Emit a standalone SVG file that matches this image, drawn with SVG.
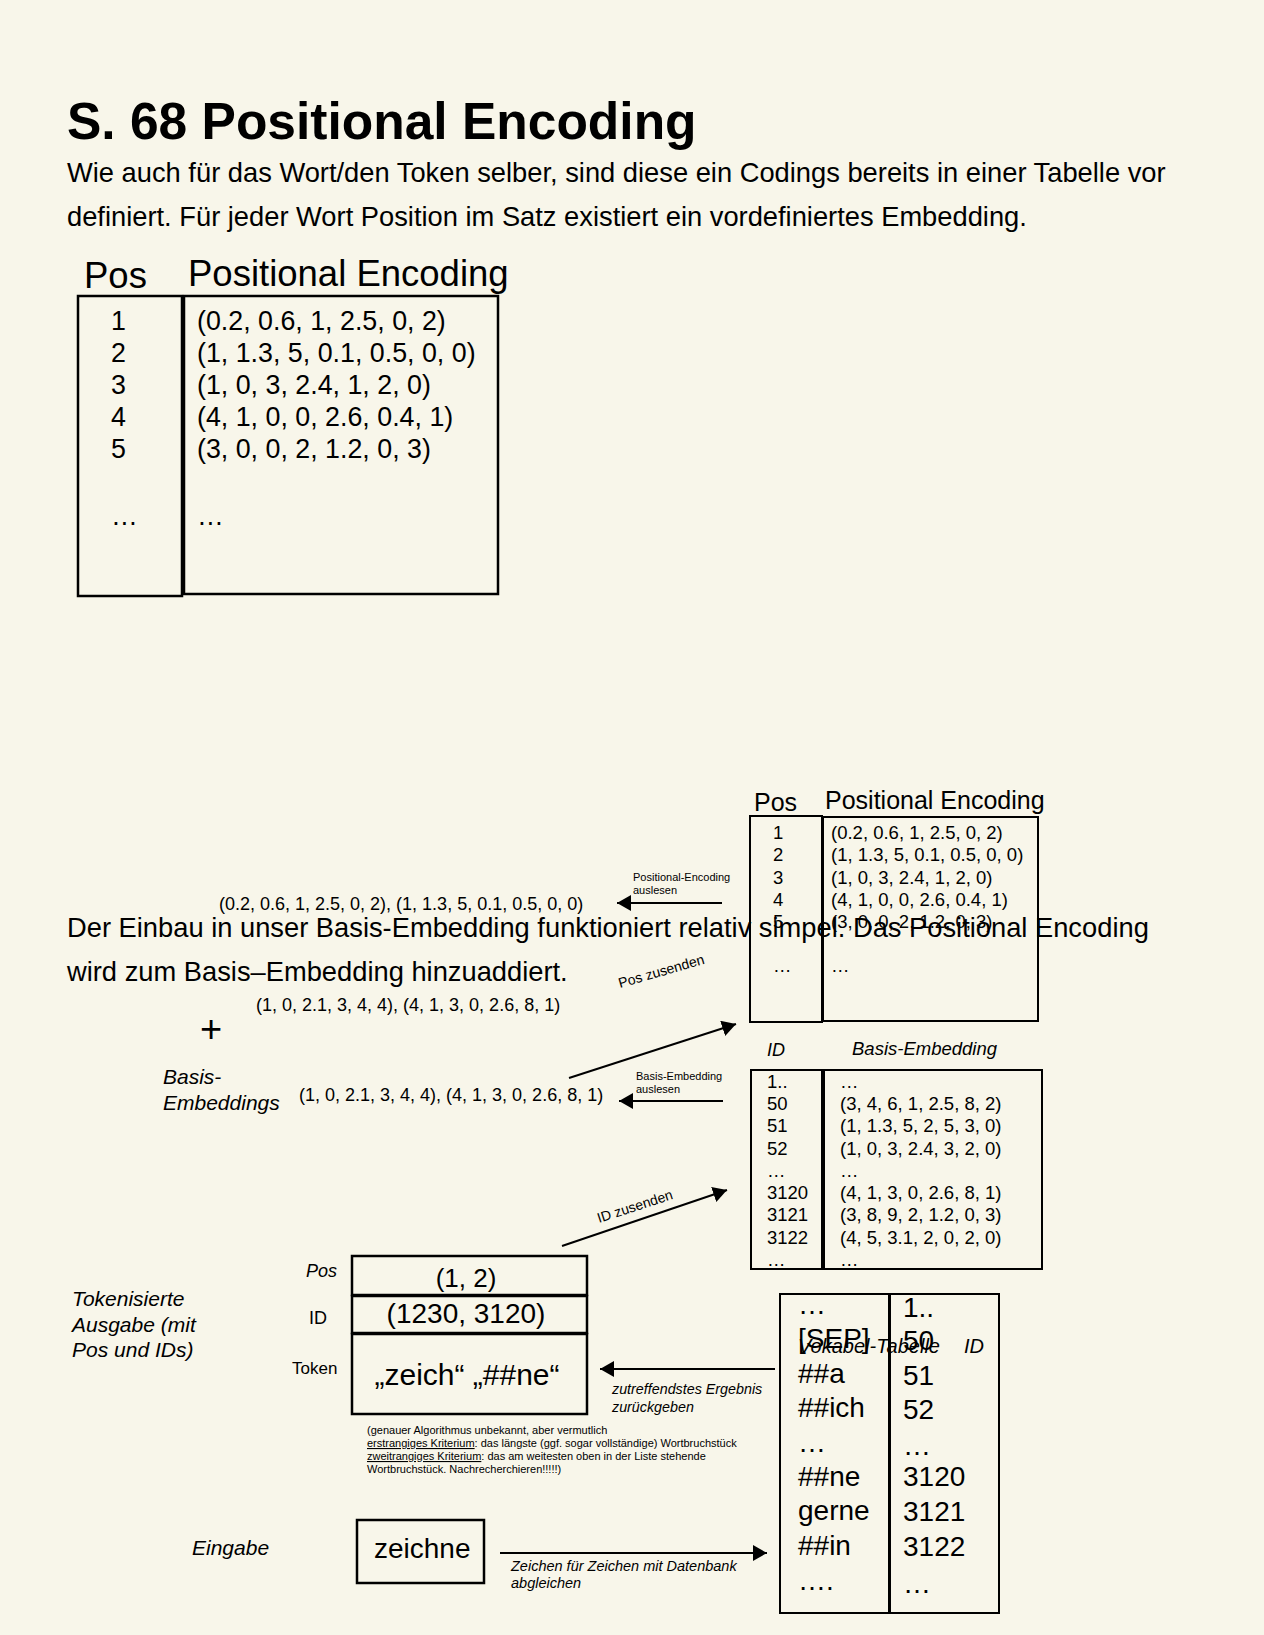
<svg xmlns="http://www.w3.org/2000/svg" width="1264" height="1635" viewBox="0 0 1264 1635">
<style>
text{font-family:'Liberation Sans',Arial,Helvetica,sans-serif;fill:#000}
.it{font-style:italic}
.box{fill:none;stroke:#000;stroke-width:2.5}
.bx2{fill:none;stroke:#000;stroke-width:2}
.conn{fill:none;stroke:#000;stroke-width:2;marker-end:url(#ah)}
.u{text-decoration:underline}
</style>
<defs>
<marker id="ah" markerUnits="userSpaceOnUse" markerWidth="18" markerHeight="18" refX="14" refY="8" orient="auto">
<path d="M0,0 L14,8 L0,16 Z" fill="#000"/>
</marker>
</defs>
<rect x="0" y="0" width="1264" height="1635" fill="#f8f6ea"/>

<g id="title">
<text x="67" y="139" font-size="51.5" font-weight="bold">S. 68 Positional Encoding</text>
<text x="67" y="182" font-size="27.3">Wie auch für das Wort/den Token selber, sind diese ein Codings bereits in einer Tabelle vor</text>
<text x="67" y="226" font-size="27.3">definiert. Für jeder Wort Position im Satz existiert ein vordefiniertes Embedding.</text>
</g>

<g id="pe-table-large">
<text x="84" y="288" font-size="36.5">Pos</text>
<text x="188" y="286" font-size="36.5">Positional Encoding</text>
<rect class="box" x="78" y="296" width="104" height="300"/>
<rect class="box" x="184" y="296" width="314" height="298"/>
<g font-size="26.8">
<text x="111" y="330">1</text>
<text x="111" y="362">2</text>
<text x="111" y="394">3</text>
<text x="111" y="426">4</text>
<text x="111" y="458">5</text>
<text x="111" y="525">…</text>
<text x="197" y="330">(0.2, 0.6, 1, 2.5, 0, 2)</text>
<text x="197" y="362">(1, 1.3, 5, 0.1, 0.5, 0, 0)</text>
<text x="197" y="394">(1, 0, 3, 2.4, 1, 2, 0)</text>
<text x="197" y="426">(4, 1, 0, 0, 2.6, 0.4, 1)</text>
<text x="197" y="458">(3, 0, 0, 2, 1.2, 0, 3)</text>
<text x="197" y="525">…</text>
</g>
</g>

<g id="pe-table-small">
<text x="754" y="811" font-size="25">Pos</text>
<text x="825" y="809" font-size="25">Positional Encoding</text>
<rect class="bx2" x="750" y="816" width="72" height="206"/>
<rect class="bx2" x="823" y="817" width="215" height="204"/>
<g font-size="18.5">
<text x="773" y="839">1</text>
<text x="773" y="861">2</text>
<text x="773" y="884">3</text>
<text x="773" y="906">4</text>
<text x="773" y="928">5</text>
<text x="773" y="972">…</text>
<text x="831" y="839">(0.2, 0.6, 1, 2.5, 0, 2)</text>
<text x="831" y="861">(1, 1.3, 5, 0.1, 0.5, 0, 0)</text>
<text x="831" y="884">(1, 0, 3, 2.4, 1, 2, 0)</text>
<text x="831" y="906">(4, 1, 0, 0, 2.6, 0.4, 1)</text>
<text x="831" y="928">(3, 0, 0, 2, 1.2, 0, 3)</text>
<text x="831" y="972">…</text>
</g>
</g>

<g id="pe-values">
<text x="219" y="910" font-size="18">(0.2, 0.6, 1, 2.5, 0, 2), (1, 1.3, 5, 0.1, 0.5, 0, 0)</text>
</g>

<g id="body2">
<text x="67" y="937" font-size="27.3">Der Einbau in unser Basis-Embedding funktioniert relativ simpel. Das Positional Encoding</text>
<text x="67" y="981" font-size="27.3">wird zum Basis–Embedding hinzuaddiert.</text>
</g>

<g id="sum">
<text x="256" y="1011" font-size="18">(1, 0, 2.1, 3, 4, 4), (4, 1, 3, 0, 2.6, 8, 1)</text>
<text x="200" y="1042" font-size="38">+</text>
</g>

<g id="basis-embeddings">
<text class="it" x="163" y="1084" font-size="21">Basis-</text>
<text class="it" x="163" y="1110" font-size="21">Embeddings</text>
<text x="299" y="1101" font-size="18">(1, 0, 2.1, 3, 4, 4), (4, 1, 3, 0, 2.6, 8, 1)</text>
</g>

<g id="be-table">
<text class="it" x="767" y="1056" font-size="18">ID</text>
<text class="it" x="852" y="1055" font-size="18.5">Basis-Embedding</text>
<rect class="bx2" x="751" y="1070" width="71" height="199"/>
<rect class="bx2" x="824" y="1070" width="218" height="199"/>
<g font-size="18.5">
<text x="767" y="1088">1..</text>
<text x="767" y="1110">50</text>
<text x="767" y="1132">51</text>
<text x="767" y="1155">52</text>
<text x="767" y="1177">…</text>
<text x="767" y="1199">3120</text>
<text x="767" y="1221">3121</text>
<text x="767" y="1244">3122</text>
<text x="767" y="1266">…</text>
<text x="840" y="1088">…</text>
<text x="840" y="1110">(3, 4, 6, 1, 2.5, 8, 2)</text>
<text x="840" y="1132">(1, 1.3, 5, 2, 5, 3, 0)</text>
<text x="840" y="1155">(1, 0, 3, 2.4, 3, 2, 0)</text>
<text x="840" y="1177">…</text>
<text x="840" y="1199">(4, 1, 3, 0, 2.6, 8, 1)</text>
<text x="840" y="1221">(3, 8, 9, 2, 1.2, 0, 3)</text>
<text x="840" y="1244">(4, 5, 3.1, 2, 0, 2, 0)</text>
<text x="840" y="1266">…</text>
</g>
</g>

<g id="token-output">
<text class="it" x="72" y="1306" font-size="21">Tokenisierte</text>
<text class="it" x="72" y="1332" font-size="21">Ausgabe (mit</text>
<text class="it" x="72" y="1357" font-size="21">Pos und IDs)</text>
<text class="it" x="306" y="1277" font-size="18">Pos</text>
<text x="309" y="1324" font-size="18">ID</text>
<text x="292" y="1374" font-size="17">Token</text>
<rect class="box" x="352" y="1256" width="235" height="39"/>
<rect class="box" x="352" y="1296" width="235" height="37"/>
<rect class="box" x="352" y="1334" width="235" height="80"/>
<text x="466" y="1287" font-size="26" text-anchor="middle">(1, 2)</text>
<text x="466" y="1323" font-size="28" text-anchor="middle">(1230, 3120)</text>
<text x="467" y="1385" font-size="30" text-anchor="middle">„zeich“ „##ne“</text>
</g>

<g id="note" font-size="11">
<text x="367" y="1434">(genauer Algorithmus unbekannt, aber vermutlich</text>
<text x="367" y="1447"><tspan class="u">erstrangiges Kriterium</tspan>: das längste (ggf. sogar vollständige) Wortbruchstück</text>
<text x="367" y="1460"><tspan class="u">zweitrangiges Kriterium</tspan>: das am weitesten oben in der Liste stehende</text>
<text x="367" y="1473">Wortbruchstück. Nachrecherchieren!!!!!)</text>
</g>

<g id="input">
<text class="it" x="192" y="1555" font-size="21">Eingabe</text>
<rect class="box" x="357" y="1520" width="127" height="63"/>
<text x="374" y="1558" font-size="28">zeichne</text>
</g>

<g id="vocab-table">
<rect class="bx2" x="780" y="1294" width="109" height="319"/>
<rect class="bx2" x="890" y="1294" width="109" height="319"/>
<g font-size="28">
<text x="798" y="1314">…</text>
<text x="798" y="1348">[SEP]</text>
<text x="798" y="1383">##a</text>
<text x="798" y="1417">##ich</text>
<text x="798" y="1452">…</text>
<text x="798" y="1486">##ne</text>
<text x="798" y="1520">gerne</text>
<text x="798" y="1555">##in</text>
<text x="798" y="1590">….</text>
<text x="903" y="1317">1..</text>
<text x="903" y="1350">50</text>
<text x="903" y="1385">51</text>
<text x="903" y="1419">52</text>
<text x="903" y="1455">…</text>
<text x="903" y="1486">3120</text>
<text x="903" y="1521">3121</text>
<text x="903" y="1556">3122</text>
<text x="903" y="1593">…</text>
</g>
<text class="it" x="798" y="1353" font-size="20">Vokabel-Tabelle</text>
<text class="it" x="964" y="1353" font-size="20">ID</text>
</g>

<g id="connectors">
<line class="conn" x1="722" y1="903" x2="617" y2="903"/>
<line class="conn" x1="569" y1="1078" x2="736" y2="1024"/>
<line class="conn" x1="723" y1="1101" x2="619" y2="1101"/>
<line class="conn" x1="562" y1="1246" x2="727" y2="1190"/>
<line class="conn" x1="775" y1="1369" x2="600" y2="1369"/>
<line class="conn" x1="500" y1="1553" x2="767" y2="1553"/>
<g font-size="11">
<text x="633" y="881">Positional-Encoding</text>
<text x="633" y="894">auslesen</text>
<text x="636" y="1080">Basis-Embedding</text>
<text x="636" y="1093">auslesen</text>
</g>
<text x="620" y="988" font-size="14" transform="rotate(-16 620 988)">Pos zusenden</text>
<text x="599" y="1223" font-size="14" transform="rotate(-18 599 1223)">ID zusenden</text>
<text class="it" x="612" y="1394" font-size="14.3">zutreffendstes Ergebnis</text>
<text class="it" x="612" y="1412" font-size="14.3">zurückgeben</text>
<text class="it" x="511" y="1571" font-size="14.5">Zeichen für Zeichen mit Datenbank</text>
<text class="it" x="511" y="1588" font-size="14.5">abgleichen</text>
</g>
</svg>
